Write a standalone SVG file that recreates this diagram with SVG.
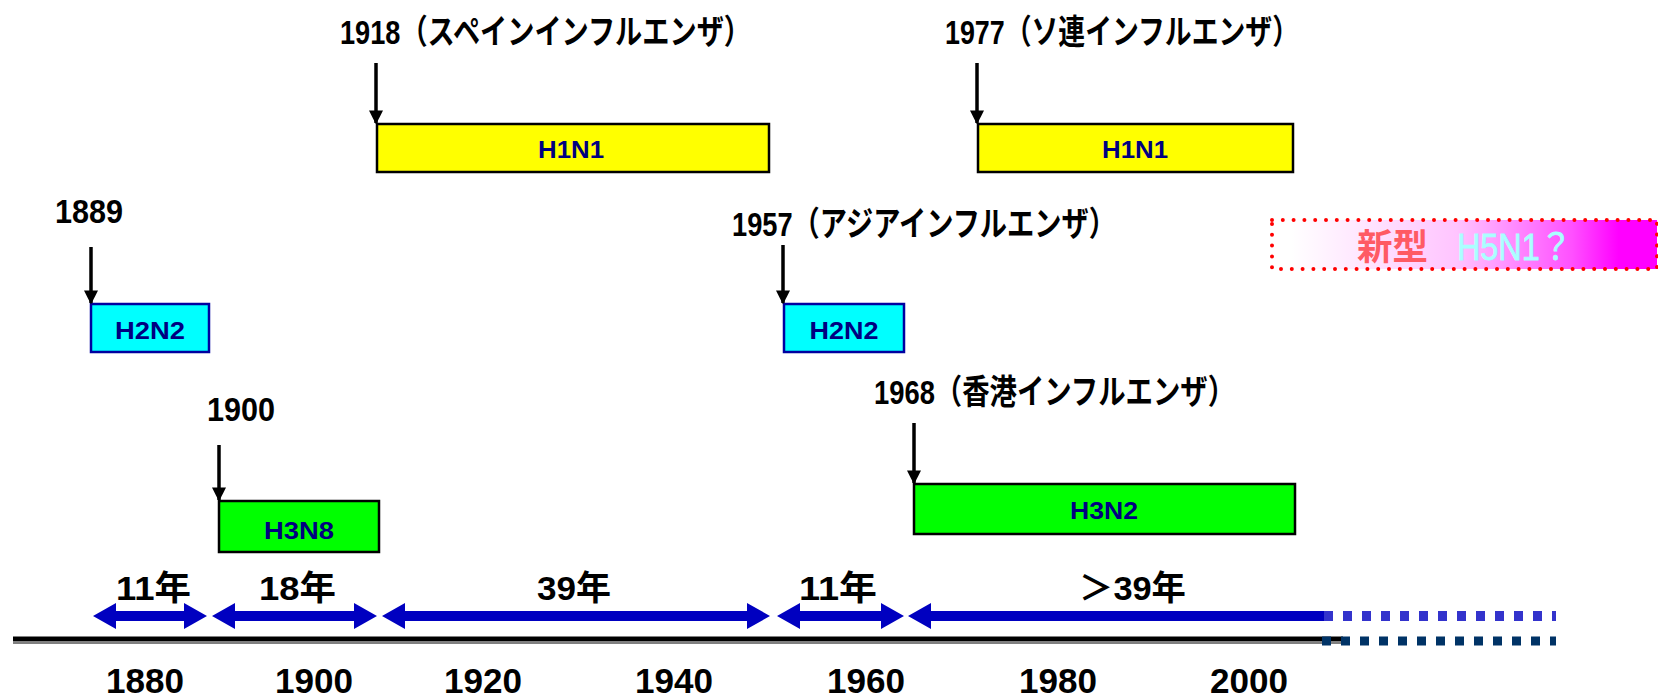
<svg xmlns="http://www.w3.org/2000/svg" width="1658" height="697" viewBox="0 0 1658 697">
<defs>
<style>
.ttl{font-family:"Liberation Sans","Noto Sans CJK JP",sans-serif;font-weight:bold;font-size:34px;fill:#000}
.yr{font-family:"Liberation Sans","Noto Sans CJK JP",sans-serif;font-weight:bold;font-size:35px;fill:#000}
.iv{font-family:"Liberation Sans","Noto Sans CJK JP",sans-serif;font-weight:bold;font-size:34px;fill:#000}
.lab{font-family:"Liberation Sans",sans-serif;font-weight:bold;font-size:24px;fill:#000080}
.box{stroke:#000;stroke-width:2.5}
.cyan{fill:#00ffff;stroke:#0000a0;stroke-width:2.5}
.down{stroke:#000;stroke-width:3.5;fill:none;marker-end:url(#ah)}
.span{fill:#0000c0}
</style>
<marker id="ah" viewBox="0 0 10 10" refX="9" refY="5" markerWidth="4" markerHeight="4" orient="auto" markerUnits="strokeWidth">
<path d="M0,0 L10,5 L0,10 Z" fill="#000"/>
</marker>
<linearGradient id="grad" x1="0" y1="0" x2="1" y2="0">
<stop offset="0" stop-color="#ffffff"/>
<stop offset="0.05" stop-color="#ffffff"/>
<stop offset="0.48" stop-color="#ffc4ff"/>
<stop offset="0.78" stop-color="#ff50ff"/>
<stop offset="0.9" stop-color="#ff00ff"/>
<stop offset="1" stop-color="#ff00ff"/>
</linearGradient>
</defs>

<g id="e1918">
<text class="ttl" x="340" y="44" textLength="411" lengthAdjust="spacingAndGlyphs">1918（スペインインフルエンザ）</text>
<rect class="box" x="377" y="124" width="392" height="48" fill="#ffff00"/>
<text class="lab" x="571" y="158" text-anchor="middle" textLength="66" lengthAdjust="spacingAndGlyphs">H1N1</text>
</g>

<g id="e1977">
<text class="ttl" x="945" y="44" textLength="354" lengthAdjust="spacingAndGlyphs">1977（ソ連インフルエンザ）</text>
<rect class="box" x="978" y="124" width="315" height="48" fill="#ffff00"/>
<text class="lab" x="1135" y="158" text-anchor="middle" textLength="66" lengthAdjust="spacingAndGlyphs">H1N1</text>
</g>

<g id="e1889">
<text class="ttl" x="55" y="223" textLength="68" lengthAdjust="spacingAndGlyphs">1889</text>
<rect class="cyan" x="91" y="304" width="118" height="48"/>
<text class="lab" x="150" y="339" text-anchor="middle" textLength="70" lengthAdjust="spacingAndGlyphs">H2N2</text>
</g>

<g id="e1957">
<text class="ttl" x="732" y="236" textLength="384" lengthAdjust="spacingAndGlyphs">1957（アジアインフルエンザ）</text>
<rect class="cyan" x="784" y="304" width="120" height="48"/>
<text class="lab" x="844" y="339" text-anchor="middle" textLength="69" lengthAdjust="spacingAndGlyphs">H2N2</text>
</g>

<g id="e1900">
<text class="ttl" x="207" y="421" textLength="68" lengthAdjust="spacingAndGlyphs">1900</text>
<rect class="box" x="219" y="501" width="160" height="51" fill="#00ff00"/>
<text class="lab" x="299" y="539" text-anchor="middle" textLength="70" lengthAdjust="spacingAndGlyphs">H3N8</text>
</g>

<g id="e1968">
<text class="ttl" x="874" y="404" textLength="361" lengthAdjust="spacingAndGlyphs">1968（香港インフルエンザ）</text>
<rect class="box" x="914" y="484" width="381" height="50" fill="#00ff00"/>
<text class="lab" x="1104" y="519" text-anchor="middle" textLength="68" lengthAdjust="spacingAndGlyphs">H3N2</text>
</g>

<g id="new">
<rect x="1272" y="220" width="385" height="49" fill="url(#grad)" stroke="#ff0000" stroke-width="4" stroke-dasharray="0 10.8" stroke-linecap="round"/>
<text x="1357" y="260" font-family="'Liberation Sans','Noto Sans CJK JP',sans-serif" font-size="36"><tspan fill="#ff5a64" font-weight="bold" textLength="71" lengthAdjust="spacingAndGlyphs">新型</tspan><tspan fill="#aaffff" x="1457" textLength="115" lengthAdjust="spacingAndGlyphs" stroke="#aaffff" stroke-width="0.8">H5N1？</tspan></text>
</g>

<g id="connectors">
<line class="down" x1="376" y1="63" x2="376" y2="123"/>
<line class="down" x1="977" y1="63" x2="977" y2="123"/>
<line class="down" x1="91" y1="247" x2="91" y2="303"/>
<line class="down" x1="783" y1="245" x2="783" y2="303"/>
<line class="down" x1="219" y1="445" x2="219" y2="500"/>
<line class="down" x1="914" y1="423" x2="914" y2="483"/>
</g>

<g id="axis">
<rect x="13" y="636" width="1330" height="8" fill="#808080"/>
<rect x="13" y="637" width="1330" height="4" fill="#000"/>
<line x1="1322" y1="641" x2="1556" y2="641" stroke="#003366" stroke-width="9" stroke-dasharray="9 10"/>
<text class="yr" x="145" y="693" text-anchor="middle" textLength="78" lengthAdjust="spacingAndGlyphs">1880</text>
<text class="yr" x="314" y="693" text-anchor="middle" textLength="78" lengthAdjust="spacingAndGlyphs">1900</text>
<text class="yr" x="483" y="693" text-anchor="middle" textLength="78" lengthAdjust="spacingAndGlyphs">1920</text>
<text class="yr" x="674" y="693" text-anchor="middle" textLength="78" lengthAdjust="spacingAndGlyphs">1940</text>
<text class="yr" x="866" y="693" text-anchor="middle" textLength="78" lengthAdjust="spacingAndGlyphs">1960</text>
<text class="yr" x="1058" y="693" text-anchor="middle" textLength="78" lengthAdjust="spacingAndGlyphs">1980</text>
<text class="yr" x="1249" y="693" text-anchor="middle" textLength="78" lengthAdjust="spacingAndGlyphs">2000</text>
</g>

<g id="intervals">
<path class="span" d="M93,616 L116,603 L116,611 L184,611 L184,603 L207,616 L184,629 L184,621 L116,621 L116,629 Z"/>
<path class="span" d="M212,616 L235,603 L235,611 L354,611 L354,603 L377,616 L354,629 L354,621 L235,621 L235,629 Z"/>
<path class="span" d="M382,616 L405,603 L405,611 L747,611 L747,603 L770,616 L747,629 L747,621 L405,621 L405,629 Z"/>
<path class="span" d="M777,616 L800,603 L800,611 L881,611 L881,603 L904,616 L881,629 L881,621 L800,621 L800,629 Z"/>
<path class="span" d="M908,616 L931,603 L931,611 L1330,611 L1330,621 L931,621 L931,629 Z"/>
<line x1="1324" y1="616" x2="1556" y2="616" stroke="#3333cc" stroke-width="10" stroke-dasharray="9 10"/>
<text class="iv" x="116" y="600" textLength="75" lengthAdjust="spacingAndGlyphs">11年</text>
<text class="iv" x="259" y="600" textLength="77" lengthAdjust="spacingAndGlyphs">18年</text>
<text class="iv" x="537" y="600" textLength="74" lengthAdjust="spacingAndGlyphs">39年</text>
<text class="iv" x="799" y="600" textLength="78" lengthAdjust="spacingAndGlyphs">11年</text>
<text class="iv" x="1079" y="600" textLength="107" lengthAdjust="spacingAndGlyphs">＞39年</text>
</g>
</svg>
